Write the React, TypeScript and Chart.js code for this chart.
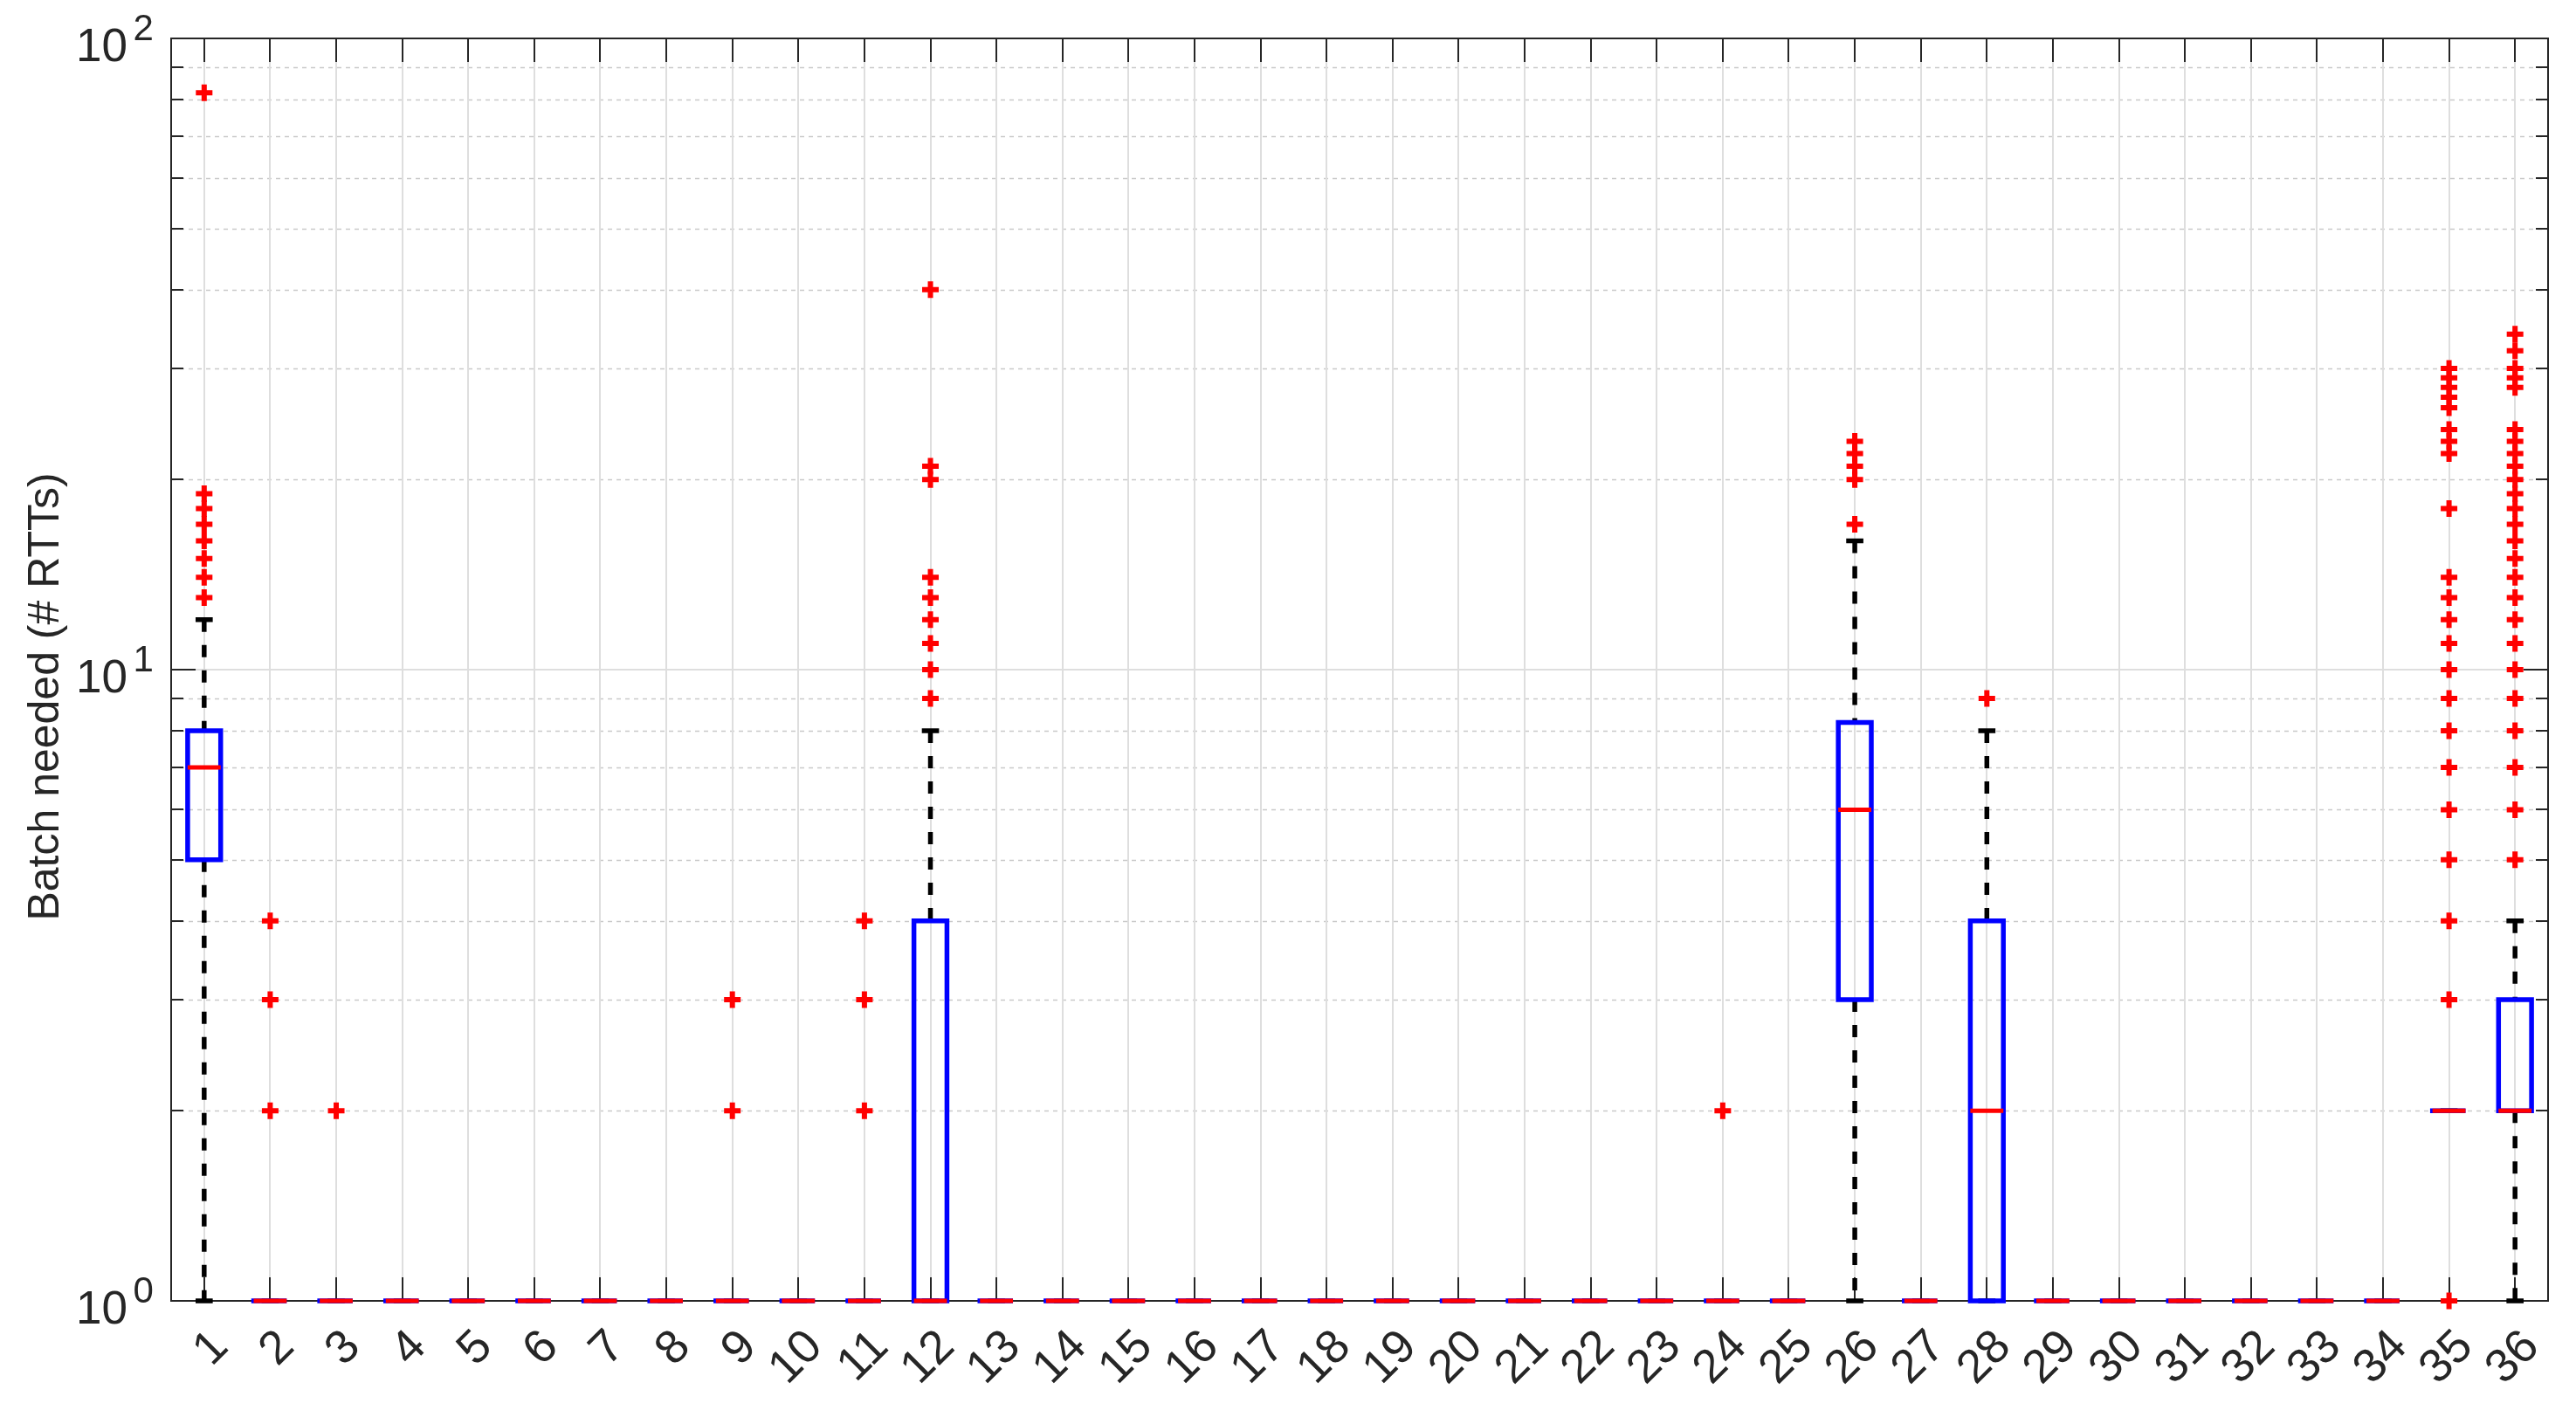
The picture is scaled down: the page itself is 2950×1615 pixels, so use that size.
import React, { useEffect, useRef } from 'react';
import { Chart, registerables } from 'chart.js';

Chart.register(...registerables);

// ---------------- data ----------------
const categories = ['1','2','3','4','5','6','7','8','9','10','11','12','13','14','15','16','17','18','19','20','21','22','23','24','25','26','27','28','29','30','31','32','33','34','35','36'];

const q1 =          [5,1,1,1,1,1,1,1,1,1,1,1,1,1,1,1,1,1,1,1,1,1,1,1,1,3,1,1,1,1,1,1,1,1,2,2];
const medians =     [7,1,1,1,1,1,1,1,1,1,1,1,1,1,1,1,1,1,1,1,1,1,1,1,1,6,1,2,1,1,1,1,1,1,2,2];
const q3 =          [8,1,1,1,1,1,1,1,1,1,1,4,1,1,1,1,1,1,1,1,1,1,1,1,1,8.25,1,4,1,1,1,1,1,1,2,3];
const whiskerLow =  [1,1,1,1,1,1,1,1,1,1,1,1,1,1,1,1,1,1,1,1,1,1,1,1,1,1,1,1,1,1,1,1,1,1,2,1];
const whiskerHigh = [12,1,1,1,1,1,1,1,1,1,1,8,1,1,1,1,1,1,1,1,1,1,1,1,1,16,1,8,1,1,1,1,1,1,2,4];

const outliers: number[][] = [
  [13,14,15,16,17,18,19,82],
  [2,3,4],
  [2],
  [], [], [], [], [],
  [2,3],
  [],
  [2,3,4],
  [9,10,11,12,13,14,20,21,40],
  [], [], [], [], [], [], [], [], [], [], [],
  [2],
  [],
  [17,20,21,22,23],
  [],
  [9],
  [], [], [], [], [], [],
  [1,3,4,5,6,7,8,9,10,11,12,13,14,18,22,23,24,26,27,28,29,30],
  [5,6,7,8,9,10,11,12,13,14,15,16,17,18,19,20,21,22,23,24,28,29,30,32,34],
];

const yMajorTicks = [1, 10, 100];
const yMajorExponents = ['0', '1', '2'];
const yMinorTicks = [2,3,4,5,6,7,8,9,20,30,40,50,60,70,80,90];
const yTitle = 'Batch needed (# RTTs)';

// ---------------- style constants ----------------
const BOX_HALF = 0.25;
const CAP_HALF = 0.13;
const FONT = '"Liberation Sans", Arial, Helvetica, sans-serif';
const TEXT = '#262626';

type Pt = { x: number; y: number | null };

function buildData() {
  const boxes: Pt[] = [];
  const meds: Pt[] = [];
  const whiskers: Pt[] = [];
  const caps: Pt[] = [];
  const outs: Pt[] = [];
  categories.forEach((_, i) => {
    const c = i + 1;
    const l = c - BOX_HALF;
    const r = c + BOX_HALF;
    boxes.push({ x: l, y: q1[i] }, { x: r, y: q1[i] }, { x: r, y: q3[i] }, { x: l, y: q3[i] }, { x: l, y: q1[i] }, { x: c, y: null });
    meds.push({ x: l, y: medians[i] }, { x: r, y: medians[i] }, { x: c, y: null });
    if (whiskerHigh[i] > q3[i]) whiskers.push({ x: c, y: whiskerHigh[i] }, { x: c, y: q3[i] }, { x: c, y: null });
    if (whiskerLow[i] < q1[i]) whiskers.push({ x: c, y: q1[i] }, { x: c, y: whiskerLow[i] }, { x: c, y: null });
    caps.push({ x: c - CAP_HALF, y: whiskerHigh[i] }, { x: c + CAP_HALF, y: whiskerHigh[i] }, { x: c, y: null });
    caps.push({ x: c - CAP_HALF, y: whiskerLow[i] }, { x: c + CAP_HALF, y: whiskerLow[i] }, { x: c, y: null });
    outliers[i].forEach((v) => outs.push({ x: c, y: v }));
  });
  return { boxes, meds, whiskers, caps, outs };
}

const axesPlugin = {
  id: 'matlabAxes',
  beforeDatasetsDraw(chart: any) {
    const { ctx, chartArea: a, scales } = chart;
    const x = scales.x;
    const y = scales.y;
    const L = a.left, R = a.right, T = a.top, B = a.bottom;
    const seg = (x1: number, y1: number, x2: number, y2: number) => {
      ctx.beginPath();
      ctx.moveTo(x1, y1);
      ctx.lineTo(x2, y2);
      ctx.stroke();
    };
    ctx.save();
    // minor horizontal grid (dashed)
    ctx.strokeStyle = '#c9c9c9';
    ctx.lineWidth = 1.5;
    ctx.setLineDash([5, 5]);
    yMinorTicks.forEach((v) => {
      const py = Math.round(y.getPixelForValue(v)) + 0.5;
      seg(L, py, R, py);
    });
    ctx.setLineDash([]);
    // major horizontal grid
    ctx.strokeStyle = '#dedede';
    ctx.lineWidth = 2;
    yMajorTicks.forEach((v) => {
      const py = Math.round(y.getPixelForValue(v));
      seg(L, py, R, py);
    });
    // vertical grid
    categories.forEach((_, i) => {
      const px = Math.round(x.getPixelForValue(i + 1));
      seg(px, T, px, B);
    });
    // ticks
    ctx.strokeStyle = TEXT;
    ctx.lineWidth = 2;
    categories.forEach((_, i) => {
      const px = Math.round(x.getPixelForValue(i + 1));
      seg(px, B, px, B - 27);
      seg(px, T, px, T + 27);
    });
    yMajorTicks.forEach((v) => {
      const py = Math.round(y.getPixelForValue(v));
      seg(L, py, L + 28, py);
      seg(R, py, R - 28, py);
    });
    yMinorTicks.forEach((v) => {
      const py = Math.round(y.getPixelForValue(v));
      seg(L, py, L + 14, py);
      seg(R, py, R - 14, py);
    });
    // axes box
    ctx.strokeRect(Math.round(L), Math.round(T), Math.round(R - L), Math.round(B - T));
    ctx.restore();
  },
  afterDraw(chart: any) {
    const { ctx, chartArea: a, scales } = chart;
    const x = scales.x;
    const y = scales.y;
    ctx.save();
    ctx.fillStyle = TEXT;
    // y tick labels: 10^n
    yMajorTicks.forEach((v, k) => {
      const py = y.getPixelForValue(v);
      ctx.font = `53px ${FONT}`;
      ctx.textAlign = 'right';
      ctx.textBaseline = 'alphabetic';
      ctx.fillText('10', a.left - 50, py + 26);
      ctx.font = `42px ${FONT}`;
      ctx.textAlign = 'left';
      ctx.fillText(yMajorExponents[k], a.left - 43.5, py + 2);
    });
    // x tick labels, rotated 45 degrees
    const xs = 54;
    ctx.font = `${xs}px ${FONT}`;
    ctx.textAlign = 'right';
    ctx.textBaseline = 'alphabetic';
    categories.forEach((lab, i) => {
      const px = x.getPixelForValue(i + 1);
      ctx.save();
      ctx.translate(px + 16, a.bottom + 41);
      ctx.rotate(-Math.PI / 4);
      ctx.fillText(lab, 0, 0.358 * xs);
      ctx.restore();
    });
    // y axis title
    ctx.font = `50px ${FONT}`;
    ctx.textAlign = 'center';
    ctx.save();
    ctx.translate(54, 798);
    ctx.rotate(-Math.PI / 2);
    ctx.fillText(yTitle, 0, 13);
    ctx.restore();
    ctx.restore();
  },
};

export default function App() {
  const ref = useRef<HTMLCanvasElement | null>(null);
  useEffect(() => {
    if (!ref.current) return;
    const d = buildData();
    const lineBase = {
      showLine: true,
      pointRadius: 0,
      pointHoverRadius: 0,
      spanGaps: false,
      fill: false,
      tension: 0,
      clip: false as any,
    };
    const chart = new Chart(ref.current, {
      type: 'scatter',
      data: {
        datasets: [
          {
            ...lineBase,
            label: 'whiskers',
            data: d.whiskers,
            borderColor: '#000000',
            borderWidth: 5.5,
            borderDash: [14, 15],
            order: 5,
          },
          {
            ...lineBase,
            label: 'caps',
            data: d.caps,
            borderColor: '#000000',
            borderWidth: 5.5,
            order: 4,
          },
          {
            ...lineBase,
            label: 'boxes',
            data: d.boxes,
            borderColor: '#0000ff',
            borderWidth: 5.5,
            borderCapStyle: 'square',
            borderJoinStyle: 'miter',
            order: 3,
          },
          {
            ...lineBase,
            label: 'medians',
            data: d.meds,
            borderColor: '#ff0000',
            borderWidth: 5,
            order: 2,
          },
          {
            label: 'outliers',
            data: d.outs,
            showLine: false,
            pointStyle: 'cross',
            pointRadius: 9.5,
            pointHoverRadius: 9.5,
            pointBorderWidth: 6,
            pointBorderColor: '#ff0000',
            pointBackgroundColor: '#ff0000',
            borderColor: '#ff0000',
            clip: false as any,
            order: 1,
          } as any,
        ],
      },
      options: {
        responsive: false,
        maintainAspectRatio: false,
        animation: false,
        devicePixelRatio: 1,
        events: [],
        layout: { padding: { top: 44, right: 32, left: 0, bottom: 0 } },
        plugins: { legend: { display: false }, tooltip: { enabled: false } },
        scales: {
          x: {
            type: 'linear',
            min: 0.5,
            max: 36.5,
            grid: { display: false },
            border: { display: false },
            ticks: { display: false },
            afterFit: (s: any) => { s.height = 125; },
          },
          y: {
            type: 'logarithmic',
            min: 1,
            max: 100,
            grid: { display: false },
            border: { display: false },
            ticks: { display: false },
            afterFit: (s: any) => { s.width = 196; },
          },
        },
      } as any,
      plugins: [axesPlugin],
    });
    return () => chart.destroy();
  }, []);
  return (
    <div style={{ position: 'absolute', left: 0, top: 0, width: 2950, height: 1615, background: '#ffffff' }}>
      <canvas ref={ref} width={2950} height={1615} style={{ display: 'block' }} />
    </div>
  );
}
